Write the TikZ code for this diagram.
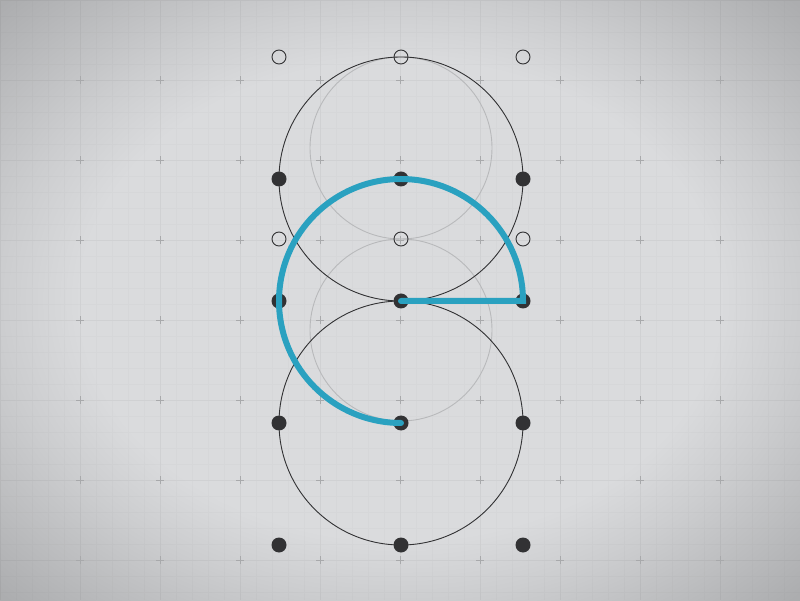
\documentclass[tikz,border=0pt]{standalone}
\usepackage{tikz}
\usepackage{xcolor}
\usetikzlibrary{positioning, calc}
\definecolor{bgin}{RGB}{218, 219, 221}
\definecolor{bgmid}{RGB}{204, 205, 207}
\definecolor{bgout}{RGB}{172, 173, 175}
\definecolor{dark}{RGB}{50, 50, 52}
\definecolor{ghost}{RGB}{184, 185, 187}
\definecolor{cross}{RGB}{168, 169, 171}
\definecolor{teal}{RGB}{42, 161, 192}
\pgfdeclareradialshading{vignette}{\pgfpoint{0bp}{0bp}}{color(0bp)=(bgin); color(20bp)=(bgin); color(25bp)=(bgmid); color(35bp)=(bgout); color(50bp)=(bgout)}
\tikzset{
    dot/.style={circle, fill=dark, inner sep=0pt, minimum size=15pt},
    hole/.style={circle, draw=dark, line width=0.9pt, inner sep=0pt, minimum size=14pt},
    guide/.style={draw=dark, line width=0.9pt},
    faint/.style={draw=ghost, line width=0.9pt},
    arcline/.style={draw=teal, line width=6pt, line cap=round},
    tick/.style={draw=cross, line width=0.7pt}
}

\begin{document}
\begin{tikzpicture}[x=1pt, y=1pt]
        \useasboundingbox (0,0) rectangle (800,600);
        \shade[shading=vignette] (0,0) rectangle (800,600);
        % background grid
        \draw[black, opacity=0.015, line width=0.6pt, step=16, yshift=8] (0,-8) grid (800,600);
        \draw[black, opacity=0.025, line width=0.8pt, step=80, yshift=40] (0,-40) grid (800,600);
        \foreach \gx in {80,160,...,720}
            \foreach \gy in {40,120,...,520}
                \draw[tick] (\gx-4,\gy) -- (\gx+4,\gy) (\gx,\gy-4) -- (\gx,\gy+4);
        % construction circles
        \draw[faint] (401,452) circle[radius=91];
        \draw[faint] (401,270) circle[radius=91];
        \draw[guide] (401,421) circle[radius=122];
        \draw[guide] (401,177) circle[radius=122];
        % open points
        \node[hole] (o-l1) at (279,543) {};
        \node[hole] (o-c1) at (401,543) {};
        \node[hole] (o-r1) at (523,543) {};
        \node[hole] (o-l2) at (279,361) {};
        \node[hole] (o-c2) at (401,361) {};
        \node[hole] (o-r2) at (523,361) {};
        % filled points
        \foreach \ry/\rn in {421/a, 299/b, 177/c, 55/d} {
            \node[dot] (\rn-l) at (279,\ry) {};
            \node[dot] (\rn-c) at (401,\ry) {};
            \node[dot] (\rn-r) at (523,\ry) {};
        }
        % stroke
        \draw[arcline] (c-c.center) arc[start angle=270, end angle=0, radius=122] -- (b-c.center);
    \end{tikzpicture}
\end{document}
